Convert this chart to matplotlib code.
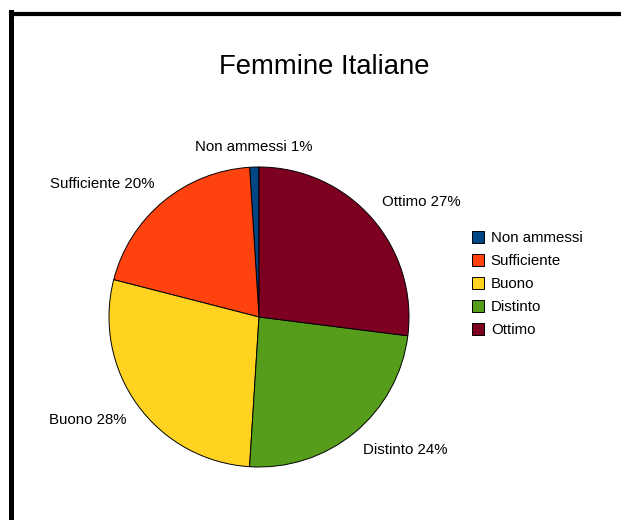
import matplotlib
matplotlib.use("Agg")
import numpy as np
import matplotlib.pyplot as plt
from matplotlib.lines import Line2D

plt.rcParams['font.family'] = ['Liberation Sans', 'DejaVu Sans']

categories = ["Non ammessi", "Sufficiente", "Buono", "Distinto", "Ottimo"]
values = [1, 20, 28, 24, 27]
colors = ["#004586", "#ff420e", "#ffd320", "#579d1c", "#7e0021"]
title = "Femmine Italiane"

fig = plt.figure(figsize=(6.21, 5.20), dpi=100)
fig.patch.set_facecolor("white")

# border (top and left visible, extends beyond right/bottom)
fig.add_artist(Line2D([10.5/621, 10.5/621], [0, 1 - 12/520], color="black", lw=3.6,
                      transform=fig.transFigure, solid_capstyle="projecting"))
fig.add_artist(Line2D([10.5/621, 1], [1 - 14/520, 1 - 14/520], color="black", lw=3.0,
                      transform=fig.transFigure, solid_capstyle="projecting"))

ax = fig.add_axes([109/621, 1 - 467/520, 300/621, 300/520])
labels = [f"{c} {v}%" for c, v in zip(categories, values)]
wedges, texts = ax.pie(values, colors=colors, startangle=90, counterclock=True,
                       labels=labels, labeldistance=1.09,
                       wedgeprops=dict(edgecolor="black", linewidth=0.7),
                       textprops=dict(fontsize=10.8))
for w, t in zip(wedges, texts):
    ang = np.deg2rad((w.theta1 + w.theta2) / 2)
    c, s = np.cos(ang), np.sin(ang)
    t.set_va("bottom" if s > 0 else "top")
    if abs(c) < 0.2:
        t.set_ha("center")
ax.set_xlim(-1, 1)
ax.set_ylim(-1, 1)
ax.set_aspect("equal")

fig.text(324/621, 1 - 67/520, title, ha="center", va="center", fontsize=19.8)

fig.legend(wedges, categories, loc="center left",
           bbox_to_anchor=(466/621, 1 - 284/520), frameon=False,
           fontsize=10.8, handlelength=0.8, handleheight=0.8,
           handletextpad=0.45, labelspacing=0.6, borderaxespad=0)

fig.savefig("out.png", dpi=100, facecolor="white")
